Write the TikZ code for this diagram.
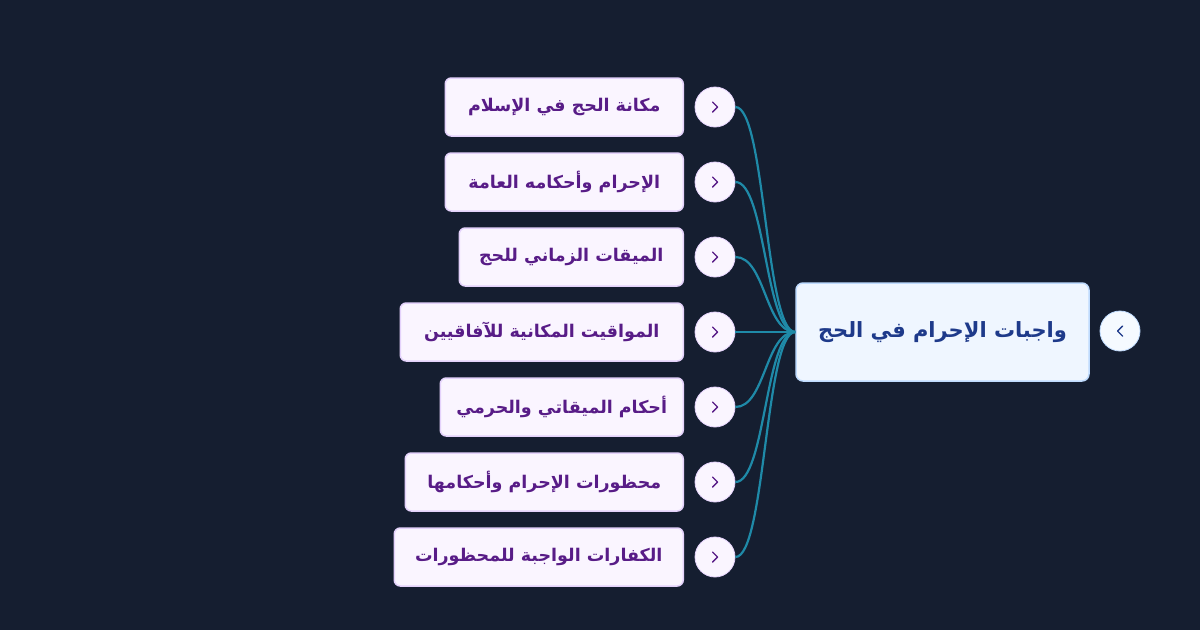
\documentclass[tikz,border=0pt]{standalone}
\usepackage{fontspec}
\newfontfamily\arabicfont[Script=Arabic]{DejaVu Sans}
\TeXXeTstate=1
\usetikzlibrary{positioning}

\definecolor{bgnavy}{HTML}{151E30}
\definecolor{rootfill}{HTML}{EFF6FF}
\definecolor{rootline}{HTML}{BFDBFE}
\definecolor{roottext}{HTML}{1E3A8A}
\definecolor{topicfill}{HTML}{FAF5FF}
\definecolor{topicline}{HTML}{E4D2FB}
\definecolor{topictext}{HTML}{581C87}
\definecolor{linkteal}{HTML}{1F8AA8}

\begin{document}
\begin{tikzpicture}[
			x=1pt, y=-1pt,
			% Define styles
			rootbox/.style={rectangle, draw=rootline, line width=1.5pt, rounded corners=7pt, fill=rootfill, text=roottext, minimum width=293pt, minimum height=98pt, font=\arabicfont\bfseries\fontsize{21}{25}\selectfont},
			topicbox/.style={rectangle, draw=topicline, line width=1.5pt, rounded corners=6pt, fill=topicfill, text=topictext, anchor=east, minimum height=58pt, font=\arabicfont\bfseries\fontsize{17.5}{21}\selectfont},
			togglebtn/.style={circle, draw=topicline, line width=0.8pt, fill=topicfill, minimum size=40pt, inner sep=0pt},
			connector/.style={draw=linkteal, line width=2.2pt},
			chevron/.style={line width=1.4pt, line cap=round, line join=round}
			]
			
			% Background
			\fill[bgnavy] (0,0) rectangle (1200,630);
			\useasboundingbox (0,0) rectangle (1200,630);
			
			% Central node
			\node[rootbox] (root) at (942.5,332) {\beginR واجبات الإحرام في الحج\endR};
			\node[togglebtn, fill=rootfill!60!white, draw=rootline] (rb) at (1120,331) {};
			\draw[chevron, roottext] ([xshift=2.5pt,yshift=-5pt]rb.center) -- ([xshift=-2.5pt]rb.center) -- ([xshift=2.5pt,yshift=5pt]rb.center);
			
			% Topic nodes
			\node[topicbox, minimum width=238pt] (t1) at (684,107) {\beginR مكانة الحج في الإسلام\endR};
			\node[topicbox, minimum width=238pt] (t2) at (684,182) {\beginR الإحرام وأحكامه العامة\endR};
			\node[topicbox, minimum width=224pt] (t3) at (684,257) {\beginR الميقات الزماني للحج\endR};
			\node[topicbox, minimum width=283pt] (t4) at (684,332) {\beginR المواقيت المكانية للآفاقيين\endR};
			\node[topicbox, minimum width=243pt] (t5) at (684,407) {\beginR أحكام الميقاتي والحرمي\endR};
			\node[topicbox, minimum width=278pt] (t6) at (684,482) {\beginR محظورات الإحرام وأحكامها\endR};
			\node[topicbox, minimum width=289pt] (t7) at (684,557) {\beginR الكفارات الواجبة للمحظورات\endR};
			
			% Toggle buttons
			\node[togglebtn] (b1) at (715,107) {};
			\node[togglebtn] (b2) at (715,182) {};
			\node[togglebtn] (b3) at (715,257) {};
			\node[togglebtn] (b4) at (715,332) {};
			\node[togglebtn] (b5) at (715,407) {};
			\node[togglebtn] (b6) at (715,482) {};
			\node[togglebtn] (b7) at (715,557) {};
			\foreach \b in {b1,b2,b3,b4,b5,b6,b7}
				\draw[chevron, topictext] ([xshift=-2.5pt,yshift=-5pt]\b.center) -- ([xshift=2.5pt]\b.center) -- ([xshift=-2.5pt,yshift=5pt]\b.center);
			
			% Connections from buttons to root
			\draw[connector] (b1.east) .. controls +(30,0) and +(-30,0) .. (root.west);
			\draw[connector] (b2.east) .. controls +(30,0) and +(-30,0) .. (root.west);
			\draw[connector] (b3.east) .. controls +(30,0) and +(-30,0) .. (root.west);
			\draw[connector] (b4.east) .. controls +(30,0) and +(-30,0) .. (root.west);
			\draw[connector] (b5.east) .. controls +(30,0) and +(-30,0) .. (root.west);
			\draw[connector] (b6.east) .. controls +(30,0) and +(-30,0) .. (root.west);
			\draw[connector] (b7.east) .. controls +(30,0) and +(-30,0) .. (root.west);
			
		\end{tikzpicture}
\end{document}
